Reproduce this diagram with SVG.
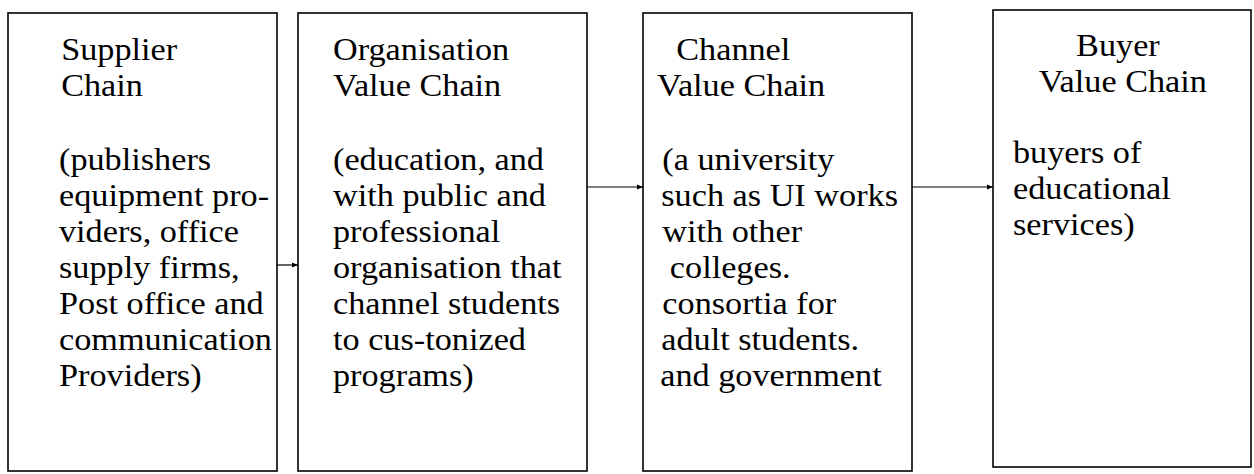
<svg xmlns="http://www.w3.org/2000/svg" width="1254" height="474" viewBox="0 0 1254 474">
<defs>
<marker id="ah" viewBox="0 0 10 10" refX="10" refY="5" markerWidth="6" markerHeight="6" orient="auto" markerUnits="userSpaceOnUse">
<path d="M0,1 L10,5 L0,9 Z" fill="#000"/>
</marker>
<style>
.box{fill:#fff;stroke:#000;stroke-width:1.6}
.t{font-family:'Liberation Serif','DejaVu Serif',serif;font-size:32px;fill:#000}
.c{stroke:#000;stroke-width:1.2;fill:none;marker-end:url(#ah)}
</style>
</defs>
<rect width="1254" height="474" fill="#fff"/>
<g id="supplier">
<rect class="box" x="8" y="13" width="269" height="458"/>
<text class="t" transform="translate(59,0) scale(1.07,1)"><tspan x="2" y="60">Supplier</tspan><tspan x="2" y="96">Chain</tspan><tspan x="0" y="170">(publishers</tspan><tspan x="0" y="206">equipment pro-</tspan><tspan x="0" y="242">viders, office</tspan><tspan x="0" y="278">supply firms,</tspan><tspan x="0" y="314">Post office and</tspan><tspan x="0" y="350">communication</tspan><tspan x="0" y="386">Providers)</tspan></text>
</g>
<g id="organisation">
<rect class="box" x="298" y="13" width="289" height="458"/>
<text class="t" transform="translate(333,0) scale(1.07,1)"><tspan x="0" y="60">Organisation</tspan><tspan x="0" y="96">Value Chain</tspan><tspan x="0" y="170">(education, and</tspan><tspan x="0" y="206">with public and</tspan><tspan x="0" y="242">professional</tspan><tspan x="0" y="278">organisation that</tspan><tspan x="0" y="314">channel students</tspan><tspan x="0" y="350">to cus-tonized</tspan><tspan x="0" y="386">programs)</tspan></text>
</g>
<g id="channel">
<rect class="box" x="643" y="13" width="269" height="458"/>
<text class="t" transform="translate(657,0) scale(1.07,1)"><tspan x="18" y="60">Channel</tspan><tspan x="0" y="96">Value Chain</tspan><tspan x="5" y="170">(a university</tspan><tspan x="4" y="206">such as UI works</tspan><tspan x="5" y="242">with other</tspan><tspan x="12" y="278">colleges.</tspan><tspan x="5" y="314">consortia for</tspan><tspan x="4" y="350">adult students.</tspan><tspan x="3" y="386">and government</tspan></text>
</g>
<g id="buyer">
<rect class="box" x="993" y="10" width="258" height="457"/>
<text class="t" transform="translate(1013,0) scale(1.07,1)"><tspan x="59" y="56">Buyer</tspan><tspan x="24" y="92">Value Chain</tspan><tspan x="0" y="163">buyers of</tspan><tspan x="0" y="199">educational</tspan><tspan x="0" y="235">services)</tspan></text>
</g>
<g id="connectors">
<line class="c" x1="277" y1="265" x2="298" y2="265"/>
<line class="c" x1="587" y1="187" x2="643" y2="187"/>
<line class="c" x1="912" y1="187" x2="993" y2="187"/>
</g>
</svg>
